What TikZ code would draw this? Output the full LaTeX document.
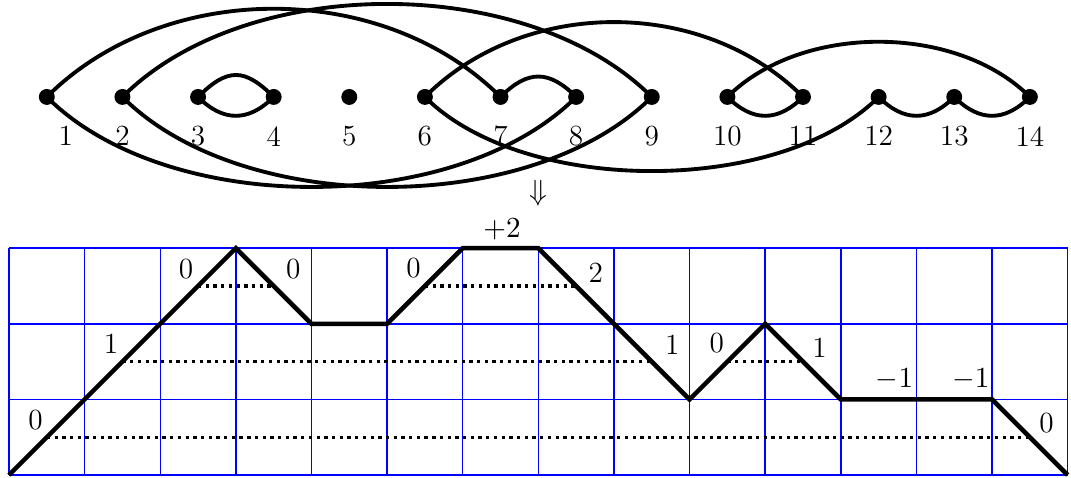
\documentclass[tikz,border=0pt]{standalone}
\begin{document}
\begin{tikzpicture}[x=1cm,y=1cm,
  every node/.style={font=\fontsize{11}{13}\selectfont},
  dot/.style={circle, fill=black, inner sep=0pt, minimum size=6pt},
  arcline/.style={line width=1.45pt},
  walk/.style={line width=1.7pt},
  gridline/.style={blue, line width=0.55pt},
  level/.style={line width=1.25pt, dash pattern=on 1.25pt off 1.65pt},
  lbl/.style={inner sep=0pt}
]
\useasboundingbox (-0.119,-0.026) rectangle (14.044,6.282);

% points of the arc diagram
\foreach \i in {1,...,14} \coordinate (p\i) at (\i-0.5,5);

% upper arcs
\draw[arcline] (p1) .. controls +(1.555,1.555) and +(-1.555,1.555) .. (p7);
\draw[arcline] (p2) .. controls +(1.64,1.64) and +(-1.64,1.64) .. (p9);
\draw[arcline] (p3) .. controls +(0.387,0.387) and +(-0.387,0.387) .. (p4);
\draw[arcline] (p7) .. controls +(0.36,0.36) and +(-0.36,0.36) .. (p8);
\draw[arcline] (p6) .. controls +(1.32,1.32) and +(-1.32,1.32) .. (p11);
\draw[arcline] (p10) .. controls +(0.973,0.973) and +(-0.973,0.973) .. (p14);
% lower arcs
\draw[arcline] (p1) .. controls +(1.587,-1.587) and +(-1.587,-1.587) .. (p8);
\draw[arcline] (p2) .. controls +(1.587,-1.587) and +(-1.587,-1.587) .. (p9);
\draw[arcline] (p3) .. controls +(0.333,-0.333) and +(-0.333,-0.333) .. (p4);
\draw[arcline] (p6) .. controls +(1.307,-1.307) and +(-1.307,-1.307) .. (p12);
\draw[arcline] (p10) .. controls +(0.333,-0.333) and +(-0.333,-0.333) .. (p11);
\draw[arcline] (p12) .. controls +(0.333,-0.333) and +(-0.333,-0.333) .. (p13);
\draw[arcline] (p13) .. controls +(0.333,-0.333) and +(-0.333,-0.333) .. (p14);

\foreach \i in {1,...,14} \node[dot] (d\i) at (p\i) {};
\node[lbl] (l1) at (0.75,4.48) {1};
\foreach \i in {2,...,14} \node[lbl] (l\i) at (\i-0.5,4.48) {\i};

\node[lbl] (arrow) at (7.0,3.73) {$\Downarrow$};

% grid and path
\draw[gridline] (0,0) grid (14,3);
\foreach \y/\a/\b in {0.5/0.5/13.5, 1.5/1.5/8.5, 1.5/9.5/10.5, 2.5/2.5/3.5, 2.5/5.5/7.5}
  \draw[level] (\a,\y) -- (\b,\y);
\draw[walk] (0,0) -- (1,1) -- (2,2) -- (3,3) -- (4,2) -- (5,2) -- (6,3) -- (7,3)
  -- (8,2) -- (9,1) -- (10,2) -- (11,1) -- (13,1) -- (14,0);

\node[lbl] (w1) at (0.35,0.73) {0};
\node[lbl] (w2) at (1.35,1.73) {1};
\node[lbl] (w3) at (2.34,2.73) {0};
\node[lbl] (w4) at (3.76,2.73) {0};
\node[lbl] (w6) at (5.35,2.74) {0};
\node[lbl] (w7) at (6.52,3.25) {$+2$};
\node[lbl] (w8) at (7.76,2.68) {2};
\node[lbl] (w9) at (8.77,1.72) {1};
\node[lbl] (w10) at (9.36,1.75) {0};
\node[lbl] (w11) at (10.72,1.68) {1};
\node[lbl] (w12) at (11.71,1.26) {$-1$};
\node[lbl] (w13) at (12.72,1.26) {$-1$};
\node[lbl] (w14) at (13.72,0.69) {0};
\end{tikzpicture}
\end{document}
